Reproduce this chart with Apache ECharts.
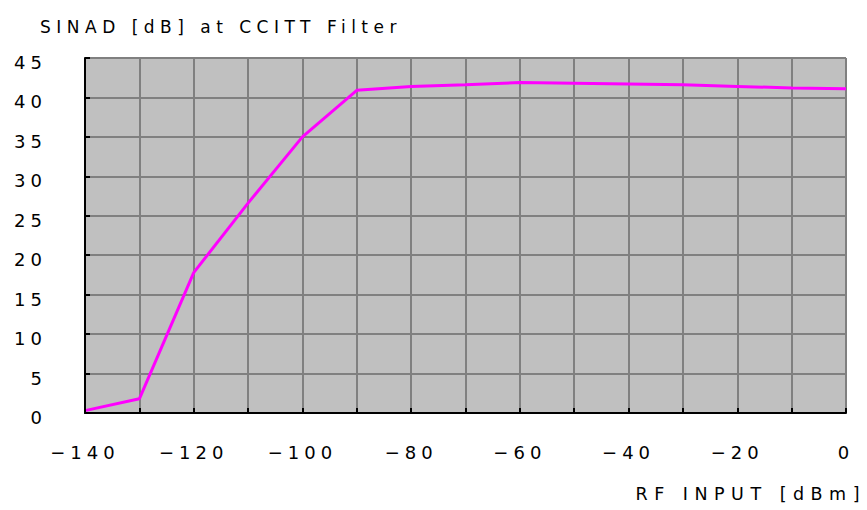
<!DOCTYPE html>
<html><head><meta charset="utf-8">
<script src="https://cdn.jsdelivr.net/npm/echarts@6/dist/echarts.min.js"></script>
<style>
html,body{margin:0;padding:0;background:#fff;}
#c{width:867px;height:510px;}
#c svg text{letter-spacing:5px;}
#c svg text[style*="17px"]{letter-spacing:5.5px;}
#c svg text[style*="17.5px"]{letter-spacing:6.5px;}
#c svg text[style*="18px"]{letter-spacing:5px;}
</style></head><body>
<div id="c"></div>
<script>
var rfInput = [-140, -130, -120, -110, -100, -90, -80, -70, -60, -50, -40, -30, -20, -10, 0];
var sinad   = [0.3, 1.8, 17.8, 26.6, 35.0, 40.9, 41.4, 41.6, 41.9, 41.8, 41.7, 41.6, 41.4, 41.2, 41.1];
var xTickLabels = [-140, -120, -100, -80, -60, -40, -20, 0];
var titleText = 'SINAD [dB] at CCITT Filter';
var xName = 'RF INPUT [dBm]';

var chart = echarts.init(document.getElementById('c'), null, {renderer: 'svg'});
var font = '"DejaVu Sans", sans-serif';
var gridStyle = {color: '#808080', width: 2};
chart.setOption({
  animation: false,
  backgroundColor: '#ffffff',
  title: {text: titleText, left: 35, top: 13, textStyle: {fontFamily: font, fontSize: 17, fontWeight: 'normal', color: '#000'}},
  grid: {left: 85, right: 21, top: 58, bottom: 97, show: true, backgroundColor: '#c0c0c0', borderWidth: 0, outerBoundsMode: 'none', containLabel: false},
  xAxis: [{
    type: 'value', position: 'bottom', min: -140, max: 0, interval: 10, z: 1,
    axisLine: {show: false}, axisTick: {show: false}, axisLabel: {show: false},
    splitLine: {show: true, lineStyle: gridStyle}
  }, {
    type: 'value', position: 'bottom', min: -140, max: 0, interval: 10, z: 5,
    name: xName, nameLocation: 'end', nameGap: 20,
    nameTextStyle: {fontFamily: font, fontSize: 17.5, color: '#000', align: 'right', verticalAlign: 'top', padding: [72, 0, 0, 0]},
    axisLine: {show: true, onZero: false, lineStyle: {color: '#000', width: 2}},
    axisTick: {show: true, inside: true, length: 5, lineStyle: {color: '#000', width: 2}},
    axisLabel: {fontFamily: font, fontSize: 18, color: '#000', margin: 30,
      formatter: function(v){ if (xTickLabels.indexOf(v) < 0) return ''; return v < 0 ? '\u2212' + (-v) : String(v);}},
    splitLine: {show: false}
  }],
  yAxis: [{
    type: 'value', position: 'left', min: 0, max: 45, interval: 5, z: 1,
    axisLine: {show: false}, axisTick: {show: false}, axisLabel: {show: false},
    splitLine: {show: true, lineStyle: gridStyle}
  }, {
    type: 'value', position: 'left', min: 0, max: 45, interval: 5, z: 5,
    axisLine: {show: true, onZero: false, lineStyle: {color: '#000', width: 2}},
    axisTick: {show: true, inside: true, length: 5, lineStyle: {color: '#000', width: 2}},
    axisLabel: {fontFamily: font, fontSize: 18, color: '#000', margin: 38,
      formatter: function(v){ return '{a|' + v + '}'; },
      rich: {a: {fontFamily: font, fontSize: 18, color: '#000', padding: [9, 0, 0, 0]}}},
    splitLine: {show: false}
  }],
  series: [
    {type: 'line', xAxisIndex: 0, yAxisIndex: 0, data: rfInput.map(function(x, i){return [x, sinad[i]];}),
     symbol: 'none', lineStyle: {color: '#ff00ff', width: 3}, z: 3}
  ]
});
</script></body></html>
